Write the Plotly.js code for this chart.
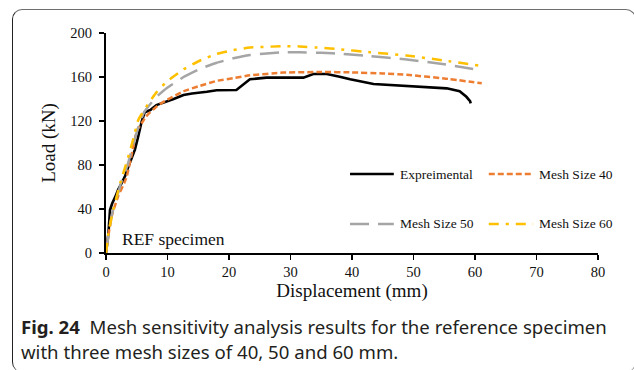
<!DOCTYPE html>
<html>
<head>
<meta charset="utf-8">
<script src="https://cdn.plot.ly/plotly-3.0.1.min.js"></script>
<style>
  html, body { margin: 0; padding: 0; background: #fff; }
  #wrap { position: relative; width: 634px; height: 370px; overflow: hidden; }
  #chart { position: absolute; left: 0; top: 0; width: 634px; height: 370px; }
  #frame { position: absolute; left: 12px; top: 9px; width: 622px; height: 362px;
           border-top: 1.3px solid #6e6e6e; border-left: 1.3px solid #222; border-right: 1.3px solid #6e6e6e;
           border-radius: 10px; pointer-events: none; }
</style>
</head>
<body>
<div id="wrap">
  <div id="chart"></div>
  <div id="frame"></div>
</div>
<script>
// ---- data ----
const seriesNames = ["Expreimental", "Mesh Size 40", "Mesh Size 50", "Mesh Size 60"];

const expX = [0, 0.2, 0.4, 0.65, 1.0, 1.5, 2.0, 2.5, 3.1, 3.6, 4.1, 4.7, 5.2, 5.8, 6.3, 7.2, 8.2, 9.9, 11, 12.6, 14, 16.4, 18, 21.2, 22.3, 23.4, 26.1, 32.1, 33.7, 35.9, 38, 39.7, 43.5, 50, 55.4, 57.5, 58.6, 59.2, 59.3];
const expY = [0, 10, 18, 39, 45, 51, 58, 63, 70, 78, 86, 94, 105, 119.5, 128, 130, 134.5, 137.5, 140, 143.6, 145, 146.6, 148, 148.2, 152.7, 157.9, 159.4, 159.4, 162.7, 162.7, 160.3, 157.9, 153.6, 151.5, 149.7, 147, 142, 138, 136];

const m40X = [0, 0.5, 1, 2, 3, 3.4, 4.2, 5.0, 5.8, 6.5, 7.2, 8, 8.8, 10, 12.6, 15.3, 18, 20.7, 23.4, 28.8, 35, 40, 45, 48.9, 55, 61.1];
const m40Y = [0, 20, 35, 52, 64, 70, 90, 111, 118, 124, 128, 132, 135.5, 139.5, 147, 152, 156.5, 159, 161.5, 164, 164.6, 164.2, 163.2, 162, 158.7, 154.3];

const m50X = [0, 0.5, 1, 2, 2.4, 3.5, 4.5, 5.3, 6.1, 7, 8.2, 9.9, 12.6, 15.3, 18, 20.7, 23.4, 28.8, 31.5, 35, 38.6, 43, 48.9, 55, 59.7];
const m50Y = [0, 20, 36, 55, 63, 80, 100, 115, 127, 134, 142, 150, 160, 167.5, 173, 177, 180, 182.5, 182.5, 182, 181, 179, 176, 171.5, 167.3];

const m60X = [0, 0.4, 1, 2.3, 3.5, 4.5, 5.25, 6.9, 8.2, 9.9, 12.6, 15.3, 18, 20.7, 23.4, 28.8, 31.5, 35, 38, 43, 48.9, 55, 60.8];
const m60Y = [0, 18, 35, 63.4, 85, 105, 121, 136, 146, 156, 167, 175, 181, 184.5, 186.8, 188, 187.8, 186.5, 185.2, 182.5, 179.5, 175, 170.2];

const xTicks = [0, 10, 20, 30, 40, 50, 60, 70, 80];
const yTicks = [0, 40, 80, 120, 160, 200];

// ---- styles ----
const styles = [
  {color: "#000000", dash: "solid", width: 2.6},
  {color: "#ED7D31", dash: "6px,3px", width: 2.5},
  {color: "#A5A5A5", dash: "19px,9px", width: 2.5},
  {color: "#FFC000", dash: "10px,7px,3px,7px", width: 2.5}
];
const xs = [expX, m40X, m50X, m60X];
const ys = [expY, m40Y, m50Y, m60Y];

const traces = seriesNames.map((n, i) => ({
  type: "scatter", mode: "lines", name: n, x: xs[i], y: ys[i],
  line: {color: styles[i].color, dash: styles[i].dash, width: styles[i].width, shape: "spline", smoothing: 0.3},
  showlegend: false, hoverinfo: "skip"
}));
traces.forEach((t, i) => { if (i === 0) t.line.shape = "linear"; });

const serif = "Liberation Serif, Times New Roman, serif";

// manual legend (two rows, two columns) in paper coords
const legPos = [
  {x0: 0.496, x1: 0.585, y: 0.359},
  {x0: 0.778, x1: 0.868, y: 0.359},
  {x0: 0.496, x1: 0.585, y: 0.132},
  {x0: 0.778, x1: 0.868, y: 0.132}
];
const shapes = legPos.map((p, i) => ({
  type: "line", xref: "paper", yref: "paper", x0: p.x0, x1: p.x1, y0: p.y, y1: p.y,
  line: {color: styles[i].color, dash: styles[i].dash, width: styles[i].width}
}));
const annotations = legPos.map((p, i) => ({
  xref: "paper", yref: "paper", x: p.x1 + 0.009, y: p.y, xanchor: "left", yanchor: "middle",
  text: seriesNames[i], showarrow: false, font: {family: serif, size: 13.5, color: "#111"}
}));
annotations.push({
  xref: "paper", yref: "paper", x: 0.028, y: 0.064, xanchor: "left", yanchor: "middle",
  text: "REF specimen", showarrow: false, font: {family: serif, size: 17.5, color: "#111"}
});
annotations.push({
  xref: "paper", yref: "paper", x: -0.177, y: -0.332, xanchor: "left", yanchor: "middle",
  text: "<b>Fig. 24</b>  Mesh sensitivity analysis results for the reference specimen",
  showarrow: false, font: {family: "Noto Sans", size: 18.6, color: "#231f20"}
});
annotations.push({
  xref: "paper", yref: "paper", x: -0.177, y: -0.447, xanchor: "left", yanchor: "middle",
  text: "with three mesh sizes of 40, 50 and 60 mm.",
  showarrow: false, font: {family: "Noto Sans", size: 18.6, color: "#231f20"}
});

const layout = {
  width: 634, height: 370,
  margin: {l: 106, r: 36, t: 33, b: 117},
  paper_bgcolor: "#ffffff", plot_bgcolor: "#ffffff",
  showlegend: false,
  font: {family: serif, color: "#111"},
  xaxis: {
    range: [0, 80], tickvals: xTicks, ticktext: xTicks.map(String),
    showline: true, linecolor: "#000", linewidth: 2, mirror: false,
    ticks: "outside", ticklen: 5, tickwidth: 1.5, tickcolor: "#000",
    showgrid: false, zeroline: false,
    tickfont: {family: serif, size: 14.5, color: "#111"},
    title: {text: "Displacement (mm)", font: {family: serif, size: 19, color: "#111"}, standoff: 4}
  },
  yaxis: {
    range: [0, 200], tickvals: yTicks, ticktext: yTicks.map(String),
    showline: true, linecolor: "#000", linewidth: 2, mirror: false,
    ticks: "outside", ticklen: 5, tickwidth: 1.5, tickcolor: "#000",
    ticklabelstandoff: 4,
    showgrid: false, zeroline: false,
    tickfont: {family: serif, size: 14.5, color: "#111"},
    title: {text: "Load (kN)", font: {family: serif, size: 19, color: "#111"}, standoff: 10}
  },
  shapes: shapes,
  annotations: annotations
};

Plotly.newPlot("chart", traces, layout, {staticPlot: true, displayModeBar: false});
</script>
</body>
</html>
